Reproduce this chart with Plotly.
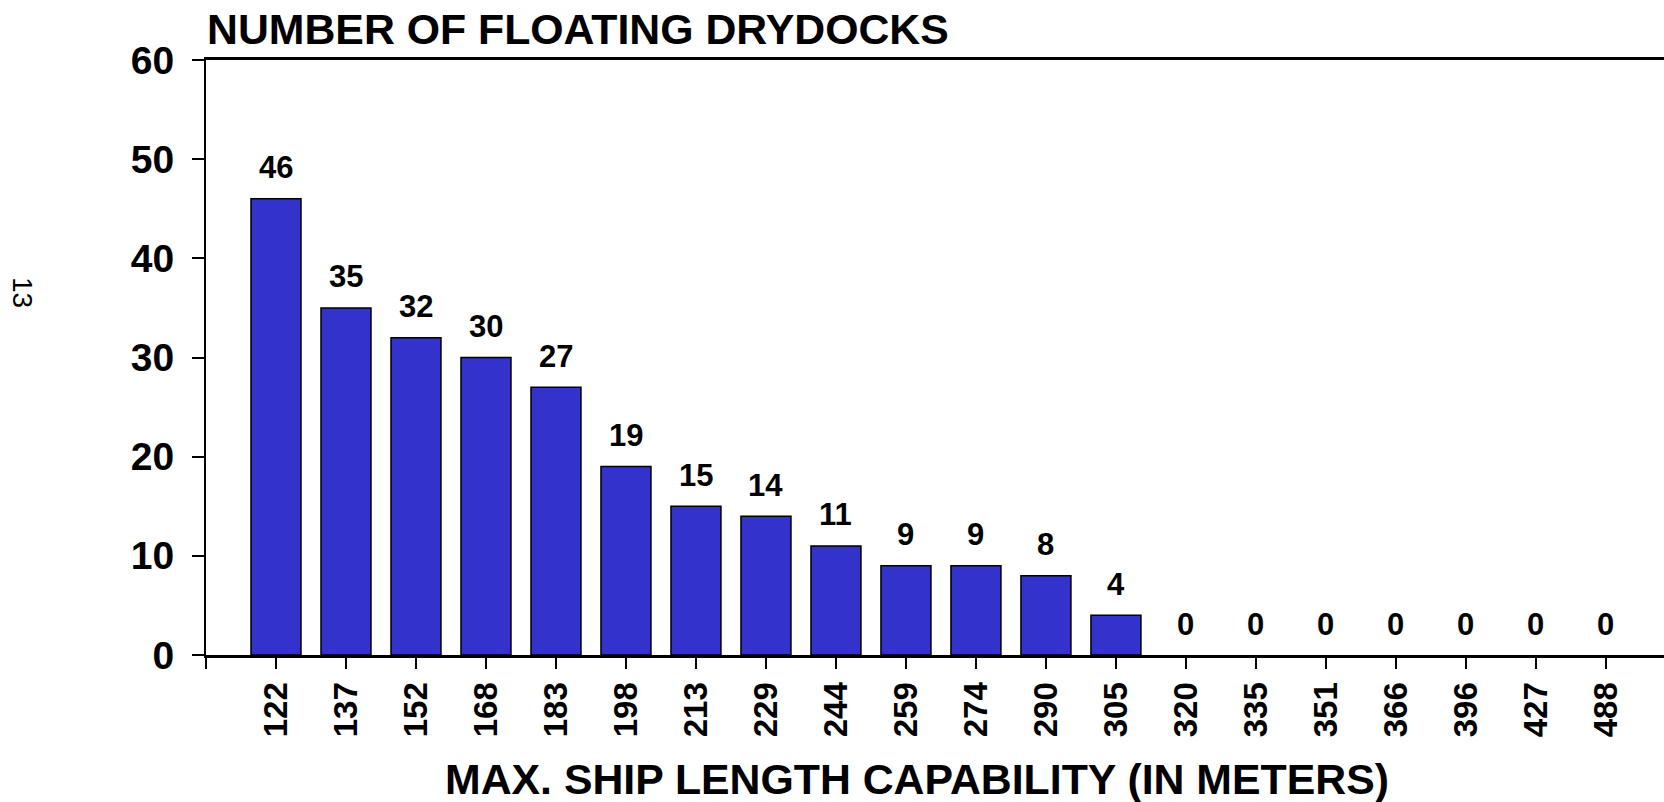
import plotly.graph_objects as go

lengths = ["122", "137", "152", "168", "183", "198", "213", "229", "244", "259",
           "274", "290", "305", "320", "335", "351", "366", "396", "427", "488"]
counts = [46, 35, 32, 30, 27, 19, 15, 14, 11, 9, 9, 8, 4, 0, 0, 0, 0, 0, 0, 0]

FONT = "Liberation Sans, Arial, sans-serif"
pos = list(range(len(lengths)))

fig = go.Figure()
fig.add_trace(go.Bar(
    x=pos, y=counts, width=0.714,
    marker={"color": "#3333CC",
            "line": {"color": "black", "width": [1.5 if v else 0 for v in counts]}},
    hoverinfo="skip",
))

# value labels above the bars
for i, v in zip(pos, counts):
    fig.add_annotation(x=i, y=v, text=f"<b>{v}</b>", showarrow=False,
                       yanchor="middle", yshift=31,
                       font={"family": FONT, "size": 31, "color": "black"})

fig.add_annotation(xref="paper", yref="paper", x=-0.001, y=1.052,
                   xanchor="left", yanchor="middle", showarrow=False,
                   text="<b>NUMBER OF FLOATING DRYDOCKS</b>",
                   font={"family": FONT, "size": 42.8, "color": "black"})
fig.add_annotation(xref="paper", yref="paper", x=0.4877, y=-0.208,
                   xanchor="center", yanchor="middle", showarrow=False,
                   text="<b>MAX. SHIP LENGTH CAPABILITY (IN METERS)</b>",
                   font={"family": FONT, "size": 42.8, "color": "black"})
# page number on the left edge
fig.add_annotation(xref="paper", yref="paper", x=-0.1255, y=0.61,
                   xanchor="center", yanchor="middle", showarrow=False,
                   text="13", textangle=90,
                   font={"family": FONT, "size": 28, "color": "black"})

fig.update_layout(
    width=1664, height=802,
    margin={"l": 206, "r": 0, "t": 60, "b": 147},
    plot_bgcolor="white", paper_bgcolor="white",
    showlegend=False,
    font={"family": FONT, "color": "black"},
    xaxis={
        "range": [-1, 19.83],
        "tickvals": [-1] + pos, "ticktext": [""] + lengths,
        "tickangle": -90, "ticks": "outside", "ticklen": 11, "tickwidth": 2,
        "tickcolor": "black", "ticklabelstandoff": 0,
        "tickfont": {"family": FONT, "size": 33, "color": "black", "weight": "bold"},
        "showline": True, "linecolor": "black", "linewidth": 3, "mirror": True,
        "showgrid": False, "zeroline": False,
    },
    yaxis={
        "range": [0, 60], "dtick": 10,
        "ticks": "outside", "ticklen": 12, "tickwidth": 2, "tickcolor": "black",
        "ticklabelstandoff": 10,
        "tickfont": {"family": FONT, "size": 39, "color": "black", "weight": "bold"},
        "showline": True, "linecolor": "black", "linewidth": 2,
        "showgrid": False, "zeroline": False,
    },
)

fig.write_html("out.html", config={"displayModeBar": False},
               post_script="document.body.style.margin='0';")
